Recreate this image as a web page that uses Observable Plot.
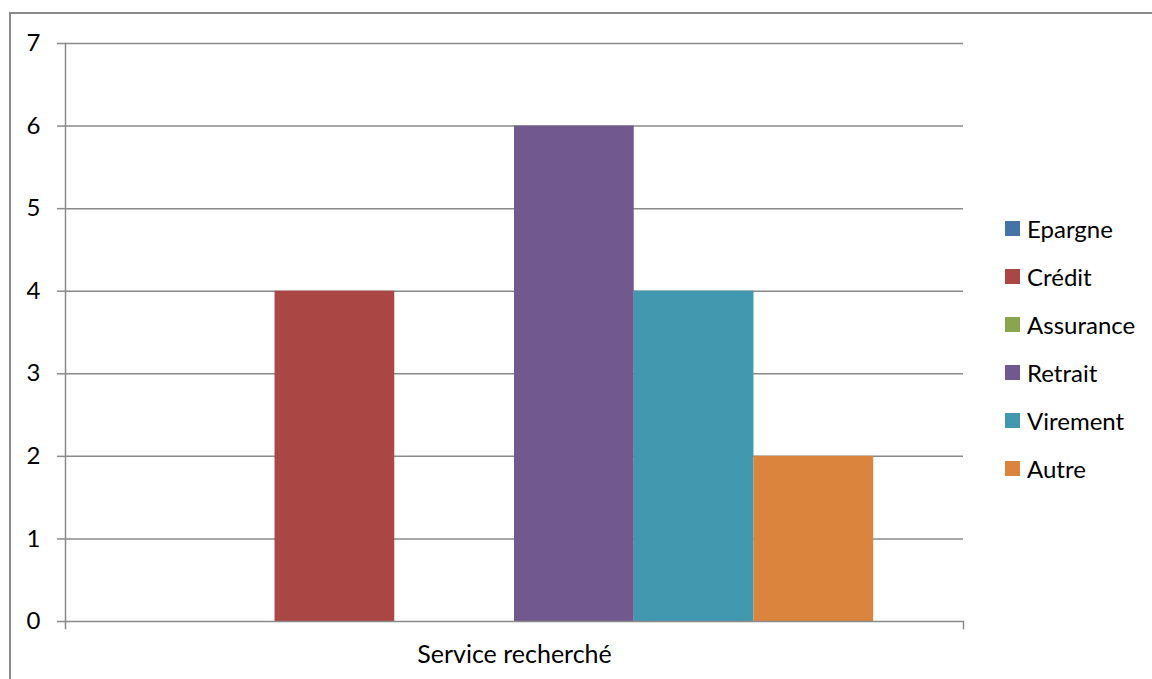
<!DOCTYPE html>
<html><head><meta charset="utf-8">
<script src="https://cdn.jsdelivr.net/npm/d3@7"></script>
<script src="https://cdn.jsdelivr.net/npm/@observablehq/plot@0.6"></script>
<style>
html,body{margin:0;padding:0;background:#fff;overflow:hidden;}
#wrap{position:relative;width:1152px;height:679px;font-family:Lato,"Open Sans",sans-serif;}
#border{position:absolute;left:9px;top:12px;width:1300px;height:800px;border:2px solid #8c8c8c;box-sizing:border-box;pointer-events:none;}
#chart{position:absolute;left:0;top:0;}
#legend{position:absolute;left:1005px;top:204px;font-size:24px;color:#000;}
#legend .row{display:flex;align-items:center;height:48px;}
#legend .sw{width:15px;height:15px;margin-right:7px;flex:none;}
</style>
</head><body>
<div id="wrap"><div id="chart"></div><div id="border"></div><div id="legend"></div></div>
<script>
const category = "Service recherché";
const series = ["Epargne","Crédit","Assurance","Retrait","Virement","Autre"];
const values = [0,4,0,6,4,2];
const colors = ["#4572A7","#AA4643","#89A54E","#71588F","#4198AF","#DB843D"];
const yTicks = [0,1,2,3,4,5,6,7];

const data = series.map((s,i)=>({category, series:s, value:values[i]}));
const grid = "#8a8a8a";

const chart = Plot.plot({
  width:1152, height:679,
  marginLeft:65, marginRight:189, marginTop:43, marginBottom:58,
  style:{fontFamily:"Lato, 'Open Sans', sans-serif", fontSize:"24px", color:"#000", background:"transparent"},
  x:{domain:series, paddingInner:0, paddingOuter:0.75, round:false, axis:null},
  y:{domain:[0,7], axis:null},
  color:{domain:series, range:colors},
  marks:[
    Plot.ruleY(yTicks.filter(d=>d>0), {stroke:grid, strokeWidth:1.5, strokeOpacity:1}),
    Plot.barY(data, {x:"series", y:"value", fill:"series"}),
    Plot.ruleY([0], {stroke:grid, strokeWidth:1.5, strokeOpacity:1}),
    Plot.axisY(yTicks, {tickSize:8, tickPadding:17, tickFormat:"d", stroke:grid, strokeWidth:1.5, strokeOpacity:1, fontSize:24, fill:"#000", label:null}),
    Plot.frame({anchor:"left", insetBottom:-7, stroke:grid, strokeWidth:1.5}),
    Plot.frame({anchor:"right", insetTop:578, insetBottom:-7, stroke:grid, strokeWidth:1.5}),
    Plot.text([category], {frameAnchor:"bottom", dy:41, fontSize:25, fill:"#000"})
  ]
});
document.getElementById("chart").appendChild(chart);

const legend = document.getElementById("legend");
series.forEach((s,i)=>{
  const row = document.createElement("div"); row.className="row";
  const sw = document.createElement("div"); sw.className="sw"; sw.style.background=colors[i];
  const t = document.createElement("span"); t.textContent=s;
  row.appendChild(sw); row.appendChild(t); legend.appendChild(row);
});
</script>
</body></html>
